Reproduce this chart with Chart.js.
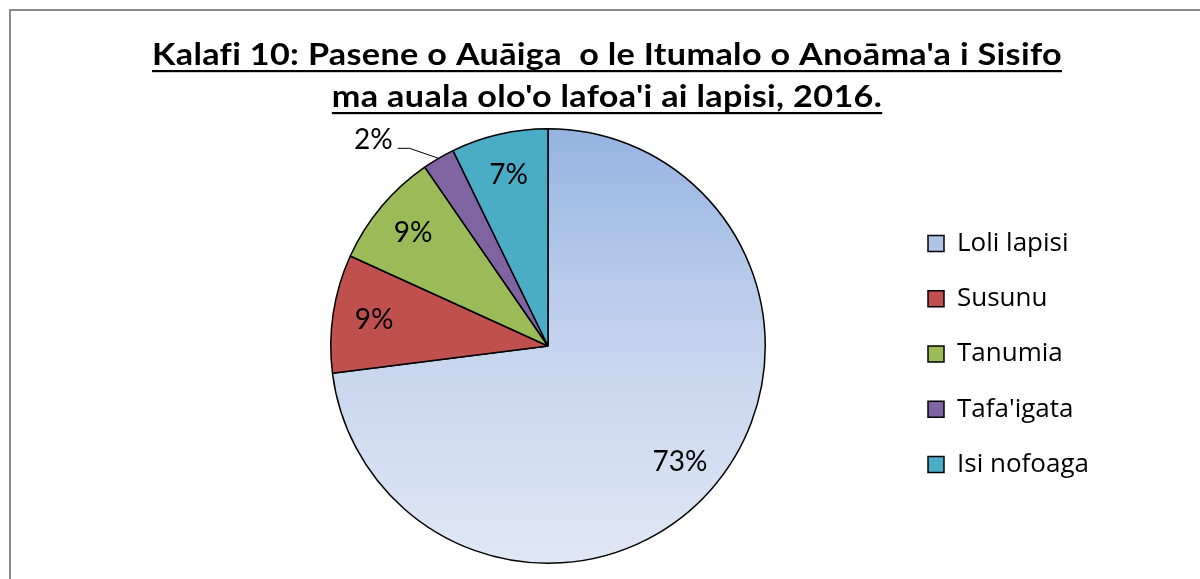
<!DOCTYPE html>
<html>
<head>
<meta charset="utf-8">
<script src="https://cdn.jsdelivr.net/npm/chart.js@4.4.1/dist/chart.umd.min.js"></script>
<style>
  html, body { margin: 0; padding: 0; background: #fff; }
</style>
</head>
<body>
<canvas id="kalafi" width="1200" height="579"></canvas>
<script>
// Kalafi 10 - pasene o auāiga o lapisi
const categorias = ['Loli lapisi', 'Susunu', 'Tanumia', "Tafa'igata", 'Isi nofoaga'];
const pasene = [73.0, 8.8, 8.6, 2.4, 7.2];
const lanu = ['#c9d6ef', '#c0504d', '#9bbb59', '#8064a2', '#4bacc6'];
const ulutala = [
    "Kalafi 10: Pasene o Auāiga  o le Itumalo o Anoāma'a i Sisifo",
    "ma auala olo'o lafoa'i ai lapisi, 2016."
];

const FONTE = 'Lato, "Open Sans", sans-serif';
const FONTE_LEG = '"Open Sans", Lato, sans-serif';

function fundo(ctx) {
    const i = ctx.dataIndex;
    const area = ctx.chart.chartArea;
    if (i !== 0 || !area) return lanu[i];
    const g = ctx.chart.ctx.createLinearGradient(0, area.top, 0, area.bottom);
    g.addColorStop(0, '#95b3e1');
    g.addColorStop(0.5, '#c5d4ee');
    g.addColorStop(1, '#e0e7f5');
    return g;
}

// moldura e título
const moldura = {
    id: 'moldura',
    beforeDraw(chart) {
        const c = chart.ctx;
        c.save();
        c.fillStyle = '#fff';
        c.fillRect(0, 0, chart.width, chart.height);
        c.fillStyle = '#8a8a8a';
        c.fillRect(9, 9, chart.width - 9, 2);
        c.fillRect(9, 9, 2, chart.height - 9);
        c.restore();
    },
    afterDraw(chart) {
        const c = chart.ctx;
        c.save();
        c.font = 'bold 31px ' + FONTE;
        c.letterSpacing = '0.3px';
        c.fillStyle = '#000';
        c.textAlign = 'center';
        c.textBaseline = 'alphabetic';
        const escala = 910 / c.measureText(ulutala[0]).width;
        const cx = 607;
        [65, 107].forEach((base, k) => {
            const w = c.measureText(ulutala[k]).width * escala;
            c.save();
            c.translate(cx, base);
            c.scale(escala, 1);
            c.fillText(ulutala[k], 0, 0);
            c.restore();
            c.fillRect(cx - w / 2, base + 5, w, 2.2);
        });
        c.restore();
    }
};

// rótulos de pasene
const rotulos = {
    id: 'rotulos',
    afterDatasetsDraw(chart) {
        const c = chart.ctx;
        const meta = chart.getDatasetMeta(0);
        c.save();
        c.font = '28px ' + FONTE;
        c.fillStyle = '#000';
        c.strokeStyle = '#000';
        c.lineWidth = 1;
        c.textBaseline = 'middle';
        meta.data.forEach((arc, i) => {
            const p = arc.getProps(['x', 'y', 'startAngle', 'endAngle', 'outerRadius'], true);
            const meio = (p.startAngle + p.endAngle) / 2;
            const texto = Math.round(pasene[i]) + '%';
            if (pasene[i] < 4) {
                const ax = p.x + Math.cos(meio) * p.outerRadius;
                const ay = p.y + Math.sin(meio) * p.outerRadius;
                c.beginPath();
                c.moveTo(ax, ay);
                c.lineTo(ax - 29, ay - 10);
                c.lineTo(ax - 41, ay - 10);
                c.stroke();
                c.textAlign = 'right';
                c.fillText(texto, ax - 46, ay - 18);
            } else {
                const r = p.outerRadius * 0.81;
                c.textAlign = 'center';
                c.fillText(texto, p.x + Math.cos(meio) * r, p.y + Math.sin(meio) * r);
            }
        });
        c.restore();
    }
};

// medir a legenda para colocar a torta no lugar certo
const tamLegenda = 26;
const espaco = 29.3;
const caixa = 16;
const medidor = document.createElement('canvas').getContext('2d');
medidor.font = tamLegenda + 'px ' + FONTE_LEG;
const maiorTexto = Math.max(...categorias.map(t => medidor.measureText(t).width));
const larguraItem = caixa + tamLegenda / 2 + maiorTexto;
const xCaixa = 928;

const grafico = new Chart(document.getElementById('kalafi'), {
    type: 'pie',
    data: {
        labels: categorias,
        datasets: [{
            data: pasene,
            backgroundColor: fundo,
            borderColor: '#000',
            borderWidth: 1.5
        }]
    },
    options: {
        responsive: false,
        animation: false,
        layout: {
            padding: {
                top: 128,
                bottom: 15,
                left: 1096 - xCaixa + espaco,
                right: (1200 - xCaixa) - larguraItem - 10
            }
        },
        plugins: {
            title: { display: false },
            tooltip: { enabled: false },
            legend: {
                position: 'right',
                title: { display: true, text: ' ', font: { size: 10 }, padding: 2 },
                labels: {
                    boxWidth: caixa,
                    boxHeight: caixa,
                    padding: espaco,
                    color: '#000',
                    font: { family: FONTE_LEG, size: tamLegenda }
                }
            }
        }
    },
    plugins: [moldura, rotulos]
});
</script>
</body>
</html>
